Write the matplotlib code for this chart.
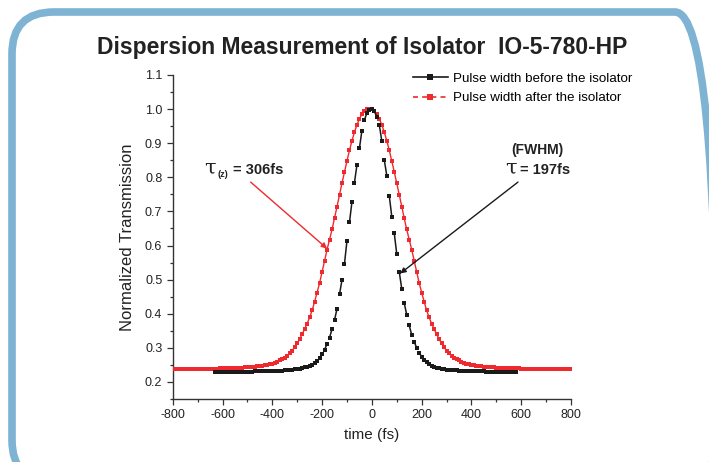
import numpy as np
import matplotlib
matplotlib.use('Agg')
import matplotlib.pyplot as plt
from matplotlib.lines import Line2D
from matplotlib.patches import FancyBboxPatch
from matplotlib.transforms import IdentityTransform

plt.rcParams['font.family'] = ['Liberation Sans', 'DejaVu Sans']
plt.rcParams['axes.unicode_minus'] = False

# sample times (fs)
after_time = np.arange(-800, 810, 10)
before_time = np.arange(-630, 590, 10)

# pulse after the isolator (red), -800 .. 800 fs
after_vals = [
    0.237, 0.237, 0.237, 0.237, 0.237, 0.237, 0.237, 0.238, 0.238, 0.238,
    0.238, 0.238, 0.238, 0.238, 0.239, 0.239, 0.239, 0.239, 0.239, 0.240,
    0.240, 0.240, 0.240, 0.241, 0.241, 0.241, 0.242, 0.242, 0.242, 0.243,
    0.243, 0.244, 0.244, 0.245, 0.246, 0.247, 0.248, 0.249, 0.250, 0.252,
    0.254, 0.256, 0.259, 0.263,
    0.267, 0.271, 0.277, 0.284, 0.292, 0.302, 0.313, 0.326, 0.340, 0.355,
    0.371, 0.389, 0.410, 0.435, 0.462, 0.490, 0.522, 0.555, 0.588, 0.617,
    0.647, 0.680, 0.714, 0.749, 0.783, 0.816, 0.848, 0.879, 0.907, 0.932,
    0.954, 0.971, 0.985, 0.994, 0.999, 1.000,
    0.999, 0.994, 0.985, 0.971, 0.954, 0.932, 0.907, 0.879, 0.848, 0.816,
    0.783, 0.749, 0.714, 0.680, 0.647, 0.617, 0.588, 0.555, 0.522, 0.490,
    0.462, 0.435, 0.410, 0.389, 0.371, 0.355, 0.340, 0.326, 0.313, 0.302,
    0.292, 0.284, 0.277, 0.271, 0.267, 0.263, 0.259, 0.256, 0.254, 0.252,
    0.250,
    0.249, 0.248, 0.247, 0.246, 0.245, 0.244, 0.244, 0.243, 0.243, 0.242,
    0.242, 0.242, 0.241, 0.241, 0.241, 0.240, 0.240, 0.240, 0.240, 0.239,
    0.239, 0.239, 0.239, 0.239, 0.238, 0.238, 0.238, 0.238, 0.238, 0.238,
    0.238, 0.237, 0.237, 0.237, 0.237, 0.237, 0.237, 0.237, 0.237, 0.237,
]

# pulse before the isolator (black), -630 .. 580 fs
before_vals = [
    0.229, 0.229, 0.229, 0.229, 0.229, 0.229, 0.229, 0.230, 0.230, 0.230,
    0.230, 0.230, 0.230, 0.230, 0.230, 0.230, 0.231, 0.231, 0.231, 0.231,
    0.231, 0.231, 0.231, 0.232, 0.232, 0.232, 0.233, 0.233, 0.234, 0.234,
    0.235, 0.236, 0.237,
    0.238, 0.239, 0.241, 0.243, 0.245, 0.248, 0.251, 0.256, 0.262, 0.271,
    0.281, 0.295, 0.311, 0.330, 0.355, 0.381, 0.415, 0.457, 0.499, 0.547,
    0.614, 0.668, 0.728, 0.784, 0.836, 0.885, 0.937, 0.968, 0.988, 0.997,
    1.000, 0.993, 0.978, 0.953, 0.906, 0.850, 0.805, 0.745, 0.685, 0.636,
    0.575, 0.523, 0.473, 0.431, 0.397, 0.366, 0.338, 0.318, 0.300, 0.286,
    0.274, 0.265, 0.258, 0.252, 0.248, 0.245, 0.242, 0.240, 0.238, 0.237,
    0.236,
    0.235, 0.235, 0.234, 0.234, 0.233, 0.233, 0.232, 0.232, 0.232, 0.231,
    0.231, 0.231, 0.231, 0.231, 0.231, 0.230, 0.230, 0.230, 0.230, 0.230,
    0.230, 0.230, 0.229, 0.229, 0.229, 0.229, 0.229, 0.229,
]

title = 'Dispersion Measurement of Isolator  IO-5-780-HP'
labels = ['Pulse width before the isolator', 'Pulse width after the isolator']

RED = '#ee2a2e'
BLACK = '#1a1a1a'
TXT = '#222222'

fig = plt.figure(figsize=(7.09, 4.62), dpi=100)

# rounded blue frame
frame = FancyBboxPatch((12, -20), 705, 470, boxstyle='round,pad=0,rounding_size=42',
                       transform=IdentityTransform(), fill=False,
                       edgecolor='#7fb3d3', linewidth=5.5)
fig.patches.append(frame)

ax = fig.add_axes([0.2436, 0.1364, 0.5618, 0.7013])

# red: dense markers joined by a line
ax.plot(after_time, after_vals, color=RED, linestyle='-', linewidth=1.0,
        marker='s', markersize=3.3, markeredgewidth=0, zorder=3)

# black: markers, line drawn only between consecutive pairs
bt = np.asarray(before_time, float).reshape(-1, 2)
bv = np.asarray(before_vals, float).reshape(-1, 2)
nanc = np.full((bt.shape[0], 1), np.nan)
ax.plot(np.hstack([bt, nanc]).ravel(), np.hstack([bv, nanc]).ravel(),
        color=BLACK, linewidth=1.1, zorder=4)
ax.plot(before_time, before_vals, linestyle='none', color=BLACK,
        marker='s', markersize=3.3, markeredgewidth=0, zorder=4)

ax.set_xlim(-800, 800)
ax.set_ylim(0.15, 1.1)
ax.set_xticks(np.arange(-800, 801, 200))
ax.set_xticks(np.arange(-700, 800, 200), minor=True)
ax.set_yticks(np.arange(0.2, 1.101, 0.1))
ax.set_yticks(np.arange(0.15, 1.11, 0.1), minor=True)
ax.set_yticklabels([f'{v:.1f}' for v in np.arange(0.2, 1.101, 0.1)])
ax.set_xticklabels([f'{v:d}' for v in np.arange(-800, 801, 200)])

for s in ['top', 'right']:
    ax.spines[s].set_visible(False)
for s in ['left', 'bottom']:
    ax.spines[s].set_linewidth(1.0)
    ax.spines[s].set_color('#333333')
ax.tick_params(which='major', direction='out', length=4, width=0.9,
               labelsize=9, colors='#333333', labelcolor=TXT)
ax.tick_params(which='minor', direction='out', length=2.5, width=0.9, colors='#333333')

ax.set_xlabel('time (fs)', fontsize=11, color=TXT, labelpad=5)
ax.set_ylabel('Normalized Transmission', fontsize=12, color=TXT, labelpad=7)

fig.text(0.511, 0.898, title, ha='center', va='center', fontsize=16.5,
         fontweight='bold', color=TXT)

handles = [
    Line2D([], [], color=BLACK, linestyle='-', linewidth=1.2, marker='s',
           markersize=3.8, markeredgewidth=0),
    Line2D([], [], color=RED, linestyle='--', linewidth=1.2, marker='s',
           markersize=3.8, markeredgewidth=0, dashes=(3, 2.5)),
]
ax.legend(handles, labels, loc='upper left', bbox_to_anchor=(0.575, 0.855),
          bbox_transform=fig.transFigure, frameon=False, fontsize=9.6,
          handlelength=2.6, handletextpad=0.4, labelspacing=0.55,
          borderaxespad=0)

# annotations
ax.annotate('', xy=(-180, 0.591), xytext=(-487, 0.786),
            arrowprops=dict(arrowstyle='-|>', color=RED, lw=1.0,
                            mutation_scale=8, shrinkA=0, shrinkB=0))
anchor = (-675, 0.81)
ax.annotate('τ', xy=anchor, xytext=(0, 0), textcoords='offset points',
            ha='left', va='baseline', fontsize=15, color=TXT,
            family=['DejaVu Serif'])
ax.annotate('(z)', xy=anchor, xytext=(10, -2), textcoords='offset points',
            ha='left', va='baseline', fontsize=6.5, fontweight='bold', color=TXT)
ax.annotate('= 306fs', xy=anchor, xytext=(21, 0), textcoords='offset points',
            ha='left', va='baseline', fontsize=10.5, fontweight='bold', color=TXT)

ax.annotate('', xy=(114, 0.518), xytext=(587, 0.786),
            arrowprops=dict(arrowstyle='-|>', color=BLACK, lw=1.0,
                            mutation_scale=8, shrinkA=0, shrinkB=0))
ax.text(665, 0.88, '(FWHM)', ha='center', va='center',
        fontsize=10, fontweight='bold', color=TXT)
anchor2 = (534, 0.81)
ax.annotate('τ', xy=anchor2, xytext=(0, 0), textcoords='offset points',
            ha='left', va='baseline', fontsize=15, color=TXT,
            family=['DejaVu Serif'])
ax.annotate('= 197fs', xy=anchor2, xytext=(11, 0), textcoords='offset points',
            ha='left', va='baseline', fontsize=10.5, fontweight='bold', color=TXT)

fig.savefig('out.png', dpi=100)
